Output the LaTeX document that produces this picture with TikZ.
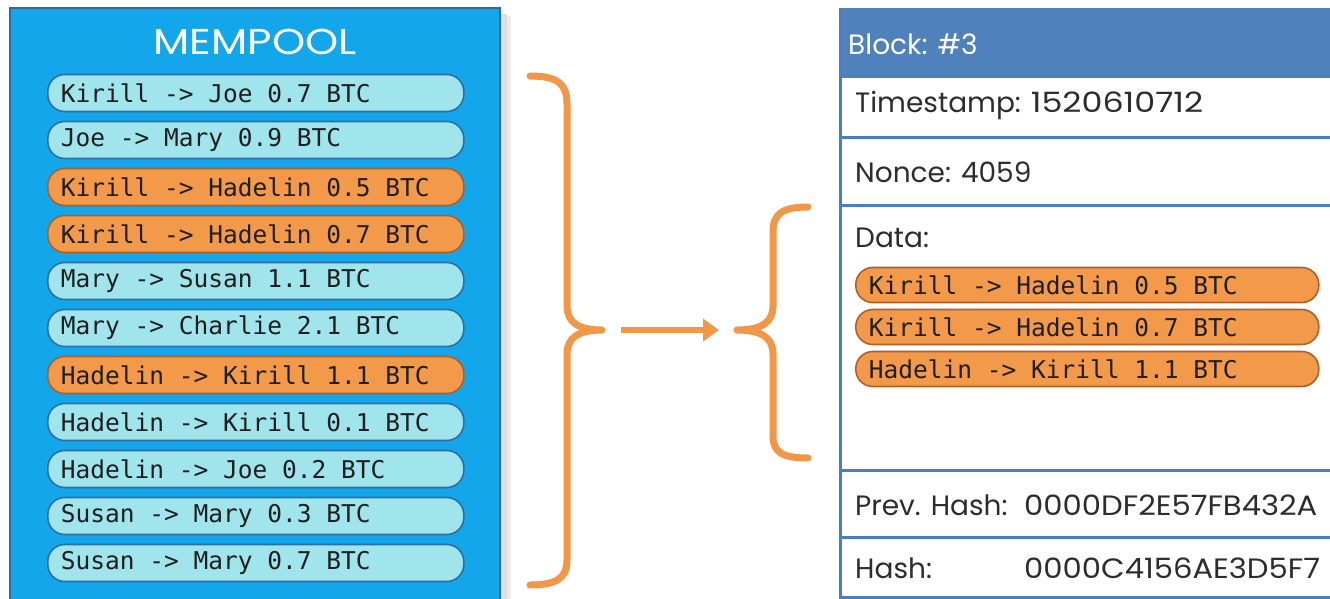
\documentclass[tikz,border=0pt]{standalone}
\usepackage{fontspec}
\setmainfont{Poppins}
\newfontfamily\txmono[WordSpace={1,0,0}]{DejaVu Sans Mono}
\newfontfamily\titlefont[FakeStretch=1.17]{Poppins}
\newfontfamily\digitfont[FakeStretch=1.19]{Poppins}
\newfontfamily\hashfont[FakeStretch=1.094]{Poppins}
\usetikzlibrary{arrows.meta}
\definecolor{poolblue}{RGB}{20,166,234}
\definecolor{pooledge}{RGB}{40,105,175}
\definecolor{rowcyan}{RGB}{160,228,236}
\definecolor{rowedge}{RGB}{45,110,165}
\definecolor{txorange}{RGB}{243,153,74}
\definecolor{txoedge}{RGB}{175,95,40}
\definecolor{blockblue}{RGB}{79,129,189}
\definecolor{lineblue}{RGB}{74,126,194}
\definecolor{braceorange}{RGB}{242,150,72}
\definecolor{darktext}{RGB}{45,45,45}
\newcommand{\monosetup}{\txmono\fontsize{24.5}{28}\selectfont}
\tikzset{
  txrow/.style={draw=rowedge, fill=rowcyan, line width=1.6pt, rounded corners=17pt,
    minimum width=416pt, minimum height=37pt, anchor=west, inner xsep=12pt,
    text width=390pt, align=left, font=\monosetup, text=black!88,
    execute at begin node={\spaceskip=0.602em\xspaceskip=0.602em\relax}},
  txhot/.style={txrow, draw=txoedge, fill=txorange},
  dtrow/.style={txhot, minimum width=463pt, text width=437pt, minimum height=35pt},
  blocktxt/.style={anchor=west, inner sep=0pt, font=\fontsize{28}{32}\selectfont, text=darktext},
  hashtxt/.style={blocktxt, font=\hashfont\fontsize{28}{32}\selectfont},
  bracepath/.style={draw=braceorange, line width=7pt, line cap=round, line join=round},
  sepline/.style={draw=lineblue, line width=3pt}
}
\begin{document}
\begin{tikzpicture}[x=1pt,y=-1pt]
\useasboundingbox (0,0) rectangle (1330,599);
\fill[white] (0,0) rectangle (1330,599);
% shadow
\fill[black!25, opacity=0.5] (500,14) rectangle (507,599);
\fill[black!15, opacity=0.5] (507,16) rectangle (511,599);
% mempool box
\draw[fill=poolblue, draw=pooledge, line width=2.5pt] (10,8) rectangle (500,602);
\node[font=\titlefont\fontsize{36}{40}\selectfont, text=white] (title) at (255,42) {MEMPOOL};
\node[txrow] (r1) at (47,93) {Kirill -> Joe 0.7 BTC};
\node[txrow] (r2) at (47,140) {Joe -> Mary 0.9 BTC};
\node[txhot] (r3) at (47,187) {Kirill -> Hadelin 0.5 BTC};
\node[txhot] (r4) at (47,234) {Kirill -> Hadelin 0.7 BTC};
\node[txrow] (r5) at (47,281) {Mary -> Susan 1.1 BTC};
\node[txrow] (r6) at (47,328) {Mary -> Charlie 2.1 BTC};
\node[txhot] (r7) at (47,375) {Hadelin -> Kirill 1.1 BTC};
\node[txrow] (r8) at (47,422) {Hadelin -> Kirill 0.1 BTC};
\node[txrow] (r9) at (47,469) {Hadelin -> Joe 0.2 BTC};
\node[txrow] (r10) at (47,516) {Susan -> Mary 0.3 BTC};
\node[txrow] (r11) at (47,563) {Susan -> Mary 0.7 BTC};
% braces
\draw[bracepath] (530,76) .. controls (558,76) and (567,84) .. (567,104) -- (567,306)
  .. controls (567,322) and (578,330) .. (602,330)
  .. controls (578,330) and (567,338) .. (567,354) -- (567,560)
  .. controls (567,577) and (558,585) .. (530,585);
\draw[bracepath] (808,207) .. controls (782,207) and (773,214) .. (773,232) -- (773,306)
  .. controls (773,322) and (762,330) .. (737,330)
  .. controls (762,330) and (773,338) .. (773,354) -- (773,436)
  .. controls (773,452) and (782,458) .. (808,458);
\coordinate (arrA) at (621,330);
\coordinate (arrB) at (719,330);
\draw[draw=braceorange, line width=6pt, -{Triangle[length=16pt,width=22pt]}] (arrA) -- (arrB);
% block
\fill[blockblue] (840,8) rectangle (1332,78);
\draw[sepline] (840,8) -- (840,601);
\draw[sepline] (840,138) -- (1332,138);
\draw[sepline] (840,205) -- (1332,205);
\draw[sepline] (840,470) -- (1332,470);
\draw[sepline] (840,537) -- (1332,537);
\draw[sepline] (840,597.5) -- (1332,597.5);
\node[blocktxt, text=white] (bh) at (848,44) {Block: \#3};
\node[blocktxt] (ts) at (855,105) {Timestamp: {\digitfont 1520610712}};
\node[blocktxt] (nc) at (855,172) {Nonce: 4059};
\node[blocktxt] (dt) at (855,238) {Data:};
\node[dtrow] (d1) at (855,285) {Kirill -> Hadelin 0.5 BTC};
\node[dtrow] (d2) at (855,327) {Kirill -> Hadelin 0.7 BTC};
\node[dtrow] (d3) at (855,369) {Hadelin -> Kirill 1.1 BTC};
\node[blocktxt] (ph) at (855,505) {Prev. Hash:};
\node[hashtxt] (phv) at (1024,505) {0000DF2E57FB432A};
\node[blocktxt] (hh) at (855,568) {Hash:};
\node[hashtxt] (hhv) at (1024,568) {0000C4156AE3D5F7};
\end{tikzpicture}
\end{document}
